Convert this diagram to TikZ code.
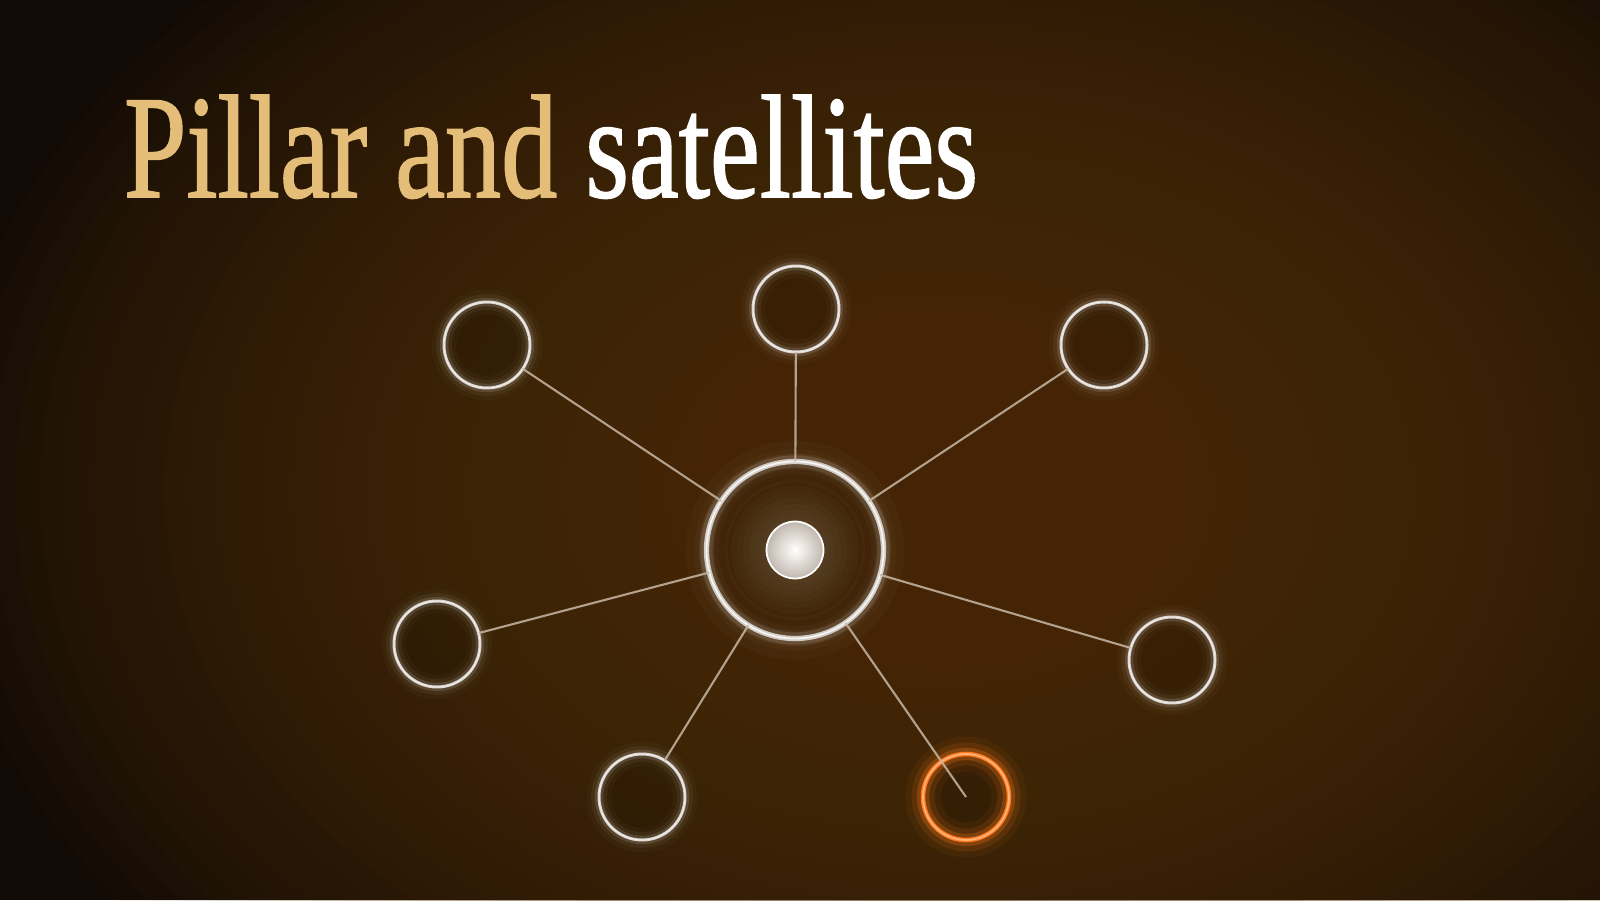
\documentclass[tikz,border=0pt]{standalone}
\usepackage{fontspec}
\usepackage{graphicx}
\setmainfont{Liberation Serif}
\newfontfamily\titlefont{Liberation Serif}[FakeBold=1.3]
\definecolor{bgdark}{HTML}{120A05}
\definecolor{bgglowc}{HTML}{56360C}
\definecolor{gold}{HTML}{E4BE79}
\definecolor{ringc}{HTML}{D2CBC4}
\definecolor{linkc}{HTML}{C8B8A5}
\definecolor{orng}{HTML}{FF7A1E}
\definecolor{orngl}{HTML}{FFB27A}
\definecolor{diskhi}{HTML}{F2EEEA}
\definecolor{diskmid}{HTML}{C8C0B8}
\definecolor{diskedge}{HTML}{A39B94}
\pgfdeclareradialshading{diskshade}{\pgfpoint{0bp}{0bp}}{color(0bp)=(white); color(6bp)=(diskhi); color(22bp)=(diskmid); color(34bp)=(diskedge); color(50bp)=(diskedge)}
\tikzset{
  sat/.style={circle, minimum size=0.86cm, inner sep=0pt, outer sep=0pt, draw=ringc, line width=0.85pt, fill=black, fill opacity=0.12, draw opacity=1},
  hot/.style={circle, minimum size=0.86cm, inner sep=0pt, outer sep=0pt, draw=orng, line width=1.3pt, fill=black, fill opacity=0.12, draw opacity=1},
  pillar/.style={circle, minimum size=1.77cm, inner sep=0pt, outer sep=0pt, draw=ringc, line width=1.5pt, fill=black, fill opacity=0.08, draw opacity=1},
  core/.style={circle, minimum size=0.57cm, inner sep=0pt, outer sep=0pt, shading=diskshade, draw=white, line width=0.5pt},
  link/.style={draw=linkc, line width=0.6pt, opacity=0.85},
  glowA/.style={draw=white, line width=7pt, opacity=0.025},
  glowB/.style={draw=white, line width=4.5pt, opacity=0.05},
  glowC/.style={draw=white, line width=2.4pt, opacity=0.12},
  oglowA/.style={draw=orng, line width=10pt, opacity=0.06},
  oglowB/.style={draw=orng, line width=6.5pt, opacity=0.12},
  oglowC/.style={draw=orng, line width=3.5pt, opacity=0.25},
  bgstep/.style={fill=bgglowc, opacity=0.055},
  titletext/.style={anchor=base west, inner sep=0pt, outer sep=0pt}
}
\begin{document}
\begin{tikzpicture}
\useasboundingbox (0,0) rectangle (16,9);
\clip (0,0) rectangle (16,9);
% background
\fill[bgdark] (0,0) rectangle (16,9);
\foreach \i in {1,...,40} {
  \fill[bgstep] (9.4,4.1) ellipse ({10*\i/40} and {7.2*\i/40});
}
% title
\node[titletext] (title) at (1.24,7.03) {\resizebox{8.54cm}{1.02cm}{\titlefont\textcolor{gold}{Pillar and} \textcolor{white}{satellites}}};
% pillar
\coordinate (cpos) at (7.95,3.50);
\draw[glowA, line width=12pt, opacity=0.025] (cpos) circle (0.885);
\draw[glowA] (cpos) circle (0.885);
\draw[glowB] (cpos) circle (0.885);
\draw[glowC, line width=3.5pt] (cpos) circle (0.885);
\node[pillar] (c) at (cpos) {};
\draw[white, line width=0.5pt, opacity=0.8] (c.center) circle (0.885);
% inner halo around core
\foreach \rr in {0.70,0.64,...,0.30} {
  \fill[white, opacity=0.018] (c.center) circle (\rr);
}
\node[core] (k) at (c.center) {};
% satellites
\node[sat] (t)  at (7.96,5.91) {};
\node[sat] (tl) at (4.87,5.55) {};
\node[sat] (tr) at (11.04,5.55) {};
\node[sat] (l)  at (4.37,2.56) {};
\node[sat] (r)  at (11.72,2.40) {};
\node[sat] (bl) at (6.42,1.03) {};
\foreach \n in {t,tl,tr,l,r,bl} {
  \draw[glowA] (\n.center) circle (0.43);
  \draw[glowB] (\n.center) circle (0.43);
  \draw[glowC] (\n.center) circle (0.43);
  \draw[white, line width=0.3pt, opacity=0.55] (\n.center) circle (0.43);
}
% hot satellite
\node[hot] (br) at (9.66,1.03) {};
\draw[oglowA] (br.center) circle (0.43);
\draw[oglowB] (br.center) circle (0.43);
\draw[oglowC] (br.center) circle (0.43);
\draw[orngl, line width=0.5pt] (br.center) circle (0.43);
% connectors
\draw[link] (c) -- (t);
\draw[link] (c) -- (tl);
\draw[link] (c) -- (tr);
\draw[link] (c) -- (l);
\draw[link] (c) -- (r);
\draw[link] (c) -- (bl);
\draw[link] (c) -- (br.center);
\end{tikzpicture}
\end{document}
